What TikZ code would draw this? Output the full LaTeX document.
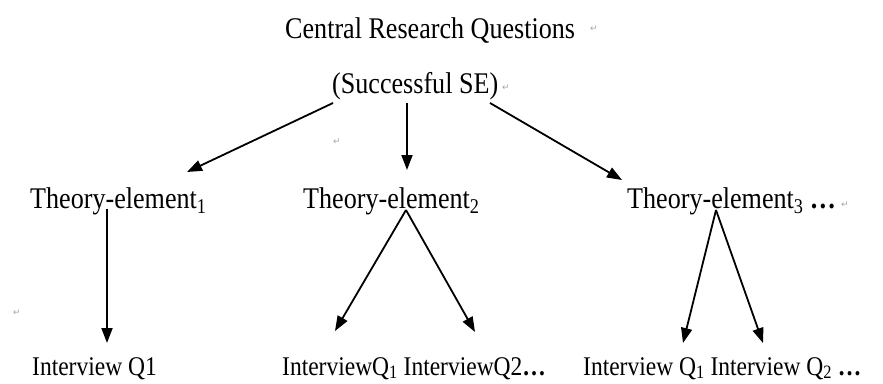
\documentclass[tikz,border=0pt]{standalone}
\usepackage{fontspec}
\usepackage{graphicx}
\setmainfont{Liberation Serif}
\newfontfamily\djv{DejaVu Sans}
\usetikzlibrary{arrows.meta}
\newcommand\sqz[1]{\scalebox{0.87}[1]{#1}}
\newcommand\bigtxt{\fontsize{30}{36}\selectfont}
\newcommand\smalltxt{\fontsize{27}{32}\selectfont}
\begin{document}
\begin{tikzpicture}[x=1pt,y=-1pt,
  big/.style={anchor=base west,inner sep=0pt,font=\bigtxt},
  small/.style={anchor=base west,inner sep=0pt,font=\smalltxt},
  pmark/.style={inner sep=0pt,text=gray!70,font=\djv\fontsize{9}{10}\selectfont},
  arr/.style={line width=1.8pt,-{Triangle[length=15pt,width=11pt]}}]
\useasboundingbox[fill=white] (0,0) rectangle (883,383);
% texts
\node[big] (title) at (285,38) {\sqz{Central Research Questions}};
\node[big] (se) at (332,93) {\sqz{(Successful SE)}};
\node[big] (t1) at (30,208) {\sqz{Theory-element\textsubscript{1}}};
\node[big] (t2) at (303,208) {\sqz{Theory-element\textsubscript{2}}};
\node[big] (t3) at (627,208) {\sqz{Theory-element\textsubscript{3} \textbf{…}}};
\node[small] (q1) at (32,375) {\sqz{Interview Q1}};
\node[small] (q2) at (282,375) {\sqz{InterviewQ\textsubscript{1} InterviewQ2\textbf{…}}};
\node[small] (q3) at (583,375) {\sqz{Interview Q\textsubscript{1} Interview Q\textsubscript{2} \textbf{…}}};
% paragraph marks
\node[pmark] (p1) at (594,29) {↵};
\node[pmark] (p2) at (506,88) {↵};
\node[pmark] (p3) at (337,142) {↵};
\node[pmark] (p4) at (845,205) {↵};
\node[pmark] (p5) at (17,313) {↵};
% connector ends
\coordinate (seL) at (333,103);
\coordinate (seM) at (407,103);
\coordinate (seR) at (490,103);
\coordinate (t1E) at (187,172);
\coordinate (t2E) at (407,170);
\coordinate (t3E) at (622,180);
\coordinate (t1S) at (107,209);
\coordinate (t2S) at (406,210);
\coordinate (t3S) at (716,210);
\coordinate (q1E) at (107,343);
\coordinate (q2aE) at (335,331);
\coordinate (q2bE) at (475,332);
\coordinate (q3aE) at (683,343);
\coordinate (q3bE) at (763,343);
% arrows
\draw[arr] (seL) -- (t1E);
\draw[arr] (seM) -- (t2E);
\draw[arr] (seR) -- (t3E);
\draw[arr] (t1S) -- (q1E);
\draw[arr] (t2S) -- (q2aE);
\draw[arr] (t2S) -- (q2bE);
\draw[arr] (t3S) -- (q3aE);
\draw[arr] (t3S) -- (q3bE);
\end{tikzpicture}
\end{document}
